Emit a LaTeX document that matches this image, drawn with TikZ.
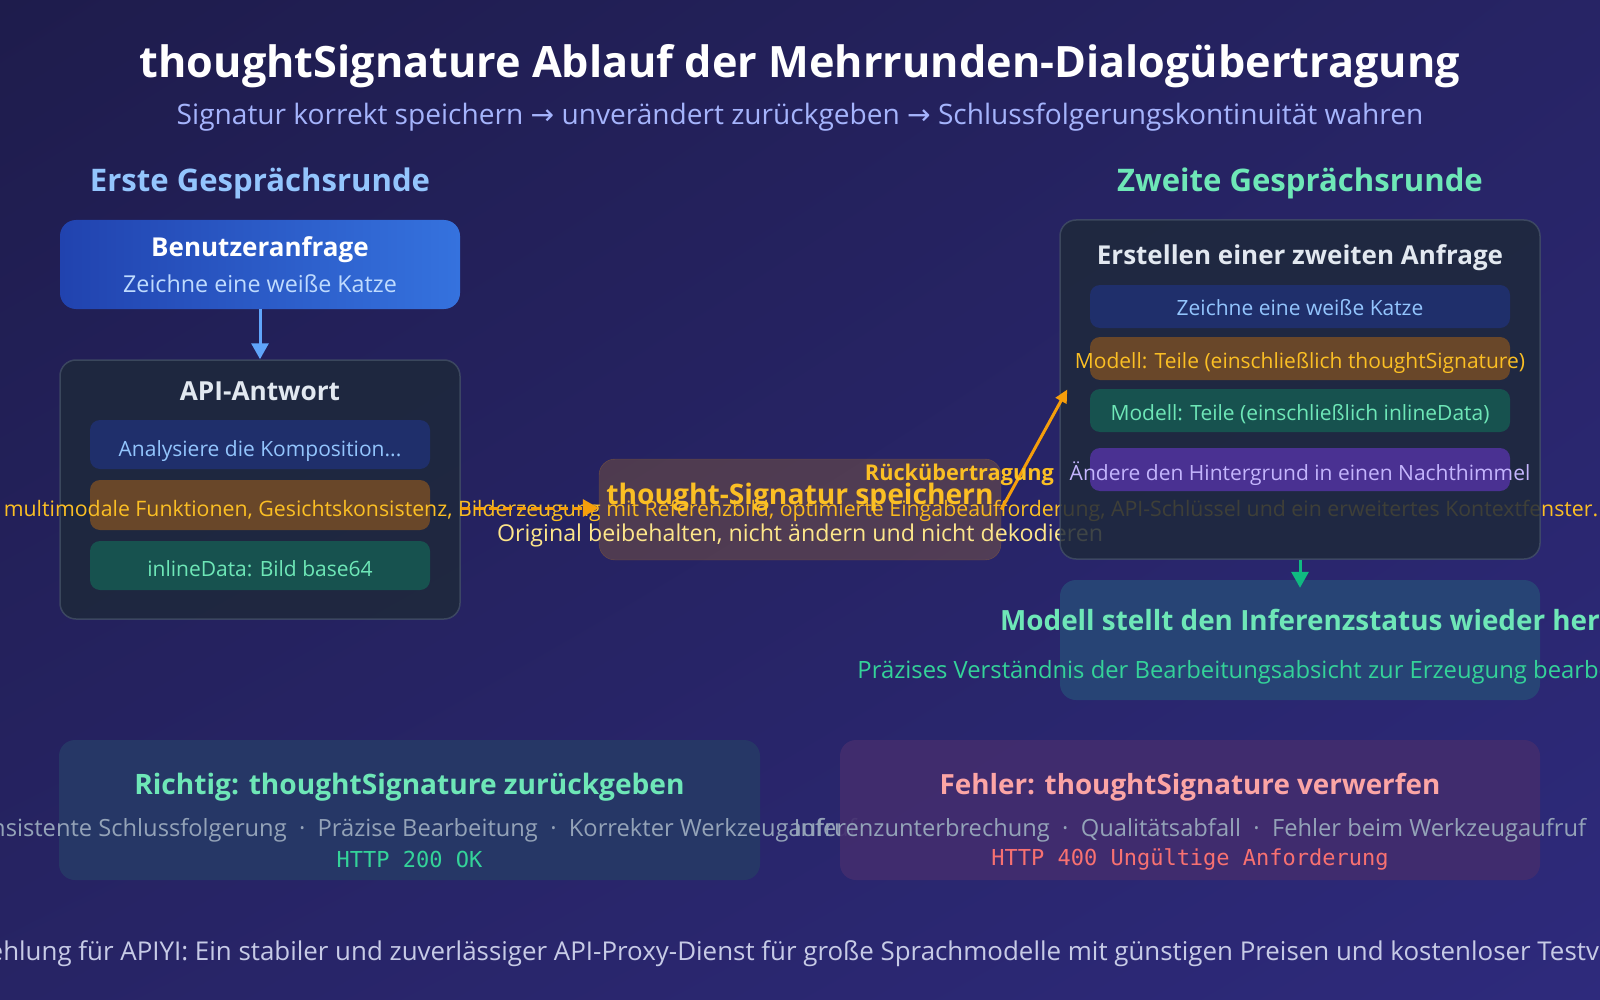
\documentclass[tikz,border=0pt]{standalone}
\usepackage{fontspec}
\setmainfont{Open Sans}
\setmonofont{DejaVu Sans Mono}
\newfontfamily\arrowfont{DejaVu Sans}
\usetikzlibrary{arrows.meta,shadings}

\definecolor{bgA}{HTML}{1E1C4C}
\definecolor{bgB}{HTML}{272465}
\definecolor{bgC}{HTML}{2E2A7C}
\definecolor{subtext}{HTML}{A5B4FC}
\definecolor{roundone}{HTML}{93C5FD}
\definecolor{roundtwo}{HTML}{6EE7B7}
\definecolor{queryA}{HTML}{2143AF}
\definecolor{queryB}{HTML}{3572DE}
\definecolor{querytext}{HTML}{BFDBFE}
\definecolor{panelfill}{HTML}{1E293B}
\definecolor{panelline}{HTML}{475569}
\definecolor{paneltitle}{HTML}{E2E8F0}
\definecolor{chipblue}{HTML}{1F2F6B}
\definecolor{chipbrown}{HTML}{694729}
\definecolor{chipteal}{HTML}{17524F}
\definecolor{chippurple}{HTML}{4A3192}
\definecolor{lightblue}{HTML}{93C5FD}
\definecolor{amber}{HTML}{FBBF24}
\definecolor{amberline}{HTML}{F59E0B}
\definecolor{paleamber}{HTML}{FDE68A}
\definecolor{mint}{HTML}{6EE7B7}
\definecolor{emerald}{HTML}{34D399}
\definecolor{violet}{HTML}{C4B5FD}
\definecolor{bluearrow}{HTML}{60A5FA}
\definecolor{greenarrow}{HTML}{10B981}
\definecolor{resultfill}{HTML}{274475}
\definecolor{goodfill}{HTML}{263766}
\definecolor{badfill}{HTML}{432D6E}
\definecolor{slate}{HTML}{94A3B8}
\definecolor{rose}{HTML}{FCA5A5}
\definecolor{errred}{HTML}{F87171}
\definecolor{footer}{HTML}{C7CBE6}

\newcommand\fsz[1]{\fontsize{#1}{#1}\selectfont}

\begin{document}
\begin{tikzpicture}[x=1pt, y=-1pt,
    panel/.style={draw=panelline, line width=1.5pt, fill=panelfill, fill opacity=0.85, draw opacity=0.7, rounded corners=16pt, inner sep=0pt},
    chip/.style={rounded corners=10pt, inner sep=0pt, minimum height=#1},
    card/.style={rounded corners=16pt, inner sep=0pt},
    txt/.style={inner sep=0pt},
    flow/.style={line width=3pt, -{Triangle[length=16pt,width=17pt]}}]
  \useasboundingbox (0,0) rectangle (1600,1000);
  \shade[upper left=bgA, upper right=bgB, lower left=bgB, lower right=bgC] (0,0) rectangle (1600,1000);
  \clip (0,0) rectangle (1600,1000);

  % heading
  \node[txt, text=white, font=\fsz{43.2}\bfseries] (title) at (800,66) {thoughtSignature Ablauf der Mehrrunden-Dialogübertragung};
  \node[txt, text=subtext, font=\fsz{28.1}] (subtitle) at (800,117) {Signatur korrekt speichern {\arrowfont →} unverändert zurückgeben {\arrowfont →} Schlussfolgerungskontinuität wahren};
  \node[txt, text=roundone, font=\fsz{31.1}\bfseries] (firsthead) at (260,183) {Erste Gesprächsrunde};
  \node[txt, text=roundtwo, font=\fsz{31.1}\bfseries] (secondhead) at (1300,183) {Zweite Gesprächsrunde};

  % first round
  \node[card, minimum width=400pt, minimum height=89pt, left color=queryA, right color=queryB] (query) at (260,264.5) {};
  \node[txt, text=white, font=\fsz{26}\bfseries] (querytitle) at (260,250) {Benutzeranfrage};
  \node[txt, text=querytext, font=\fsz{23.3}] (querytext) at (260,284) {Zeichne eine weiße Katze};

  \node[panel, minimum width=400pt, minimum height=259pt] (answer) at (260,489.5) {};
  \node[txt, text=paneltitle, font=\fsz{26.2}\bfseries] (answertitle) at (260,391) {API-Antwort};
  \node[chip=49pt, minimum width=340pt, fill=chipblue] (think) at (260,444.5) {};
  \node[txt, text=lightblue, font=\fsz{21}] (thinktext) at (260,451) {Analysiere die Komposition...};
  \node[chip=50pt, minimum width=340pt, fill=chipbrown] (sig) at (260,505) {};
  \node[chip=49pt, minimum width=340pt, fill=chipteal] (img) at (260,565.5) {};
  \node[txt, text=mint, font=\fsz{21}] (imgtext) at (260,569) {inlineData: Bild base64};
  \node[txt, text=amber, font=\fsz{21.3}] (sigtext) at (801,511) {multimodale Funktionen, Gesichtskonsistenz, Bilderzeugung mit Referenzbild, optimierte Eingabeaufforderung, API-Schlüssel und ein erweitertes Kontextfenster.};
  \coordinate (sigline) at (260,508);

  \draw[flow, color=bluearrow] (query) -- (answer);

  % stored signature
  \node[card, minimum width=402pt, minimum height=101pt, fill=amberline, fill opacity=0.2, draw=amberline, draw opacity=0.25] (store) at (800,509.5) {};
  \draw[flow, color=amberline, dash pattern=on 9pt off 5pt] (answer.east |- sigline) -- (store.west |- sigline);
  \node[txt, text=amber, font=\fsz{28.2}\bfseries] (storetitle) at (800,497) {thought-Signatur speichern};
  \node[txt, text=paleamber, font=\fsz{23.2}] (storetext) at (800,535) {Original beibehalten, nicht ändern und nicht dekodieren};

  % second round
  \node[panel, minimum width=480pt, minimum height=339pt] (request) at (1300,389.5) {};
  \node[txt, text=paneltitle, font=\fsz{26}\bfseries] (requesttitle) at (1300,258) {Erstellen einer zweiten Anfrage};
  \node[chip=43pt, minimum width=420pt, fill=chipblue] (askagain) at (1300,306.5) {};
  \node[txt, text=lightblue, font=\fsz{21}] (askagaintext) at (1300,308) {Zeichne eine weiße Katze};
  \node[chip=43pt, minimum width=420pt, fill=chipbrown] (sigagain) at (1300,358.5) {};
  \node[txt, text=amber, font=\fsz{21}] (sigagaintext) at (1300,363) {Modell: Teile (einschließlich thoughtSignature)};
  \node[chip=43pt, minimum width=420pt, fill=chipteal] (imgagain) at (1300,410.5) {};
  \node[txt, text=mint, font=\fsz{21}] (imgagaintext) at (1300,414) {Modell: Teile (einschließlich inlineData)};
  \node[chip=43pt, minimum width=420pt, fill=chippurple] (edit) at (1300,469.5) {};
  \node[txt, text=violet, font=\fsz{21}] (edittext) at (1300,474) {Ändere den Hintergrund in einen Nachthimmel};

  \draw[line width=3pt, color=amberline, -{Triangle[length=13pt,width=12pt]}] (store.east) -- ([xshift=8pt]request.west);
  \node[txt, text=amber, font=\fsz{21.7}\bfseries, anchor=east] (backlabel) at (1054,475) {Rückübertragung};

  \node[card, minimum width=480pt, minimum height=120pt, fill=resultfill] (result) at (1300,640) {};
  \draw[flow, color=greenarrow] (request) -- ([yshift=-8pt]result.north);
  \node[txt, text=mint, font=\fsz{27.85}\bfseries] (resulttitle) at (1300,620) {Modell stellt den Inferenzstatus wieder her};
  \node[txt, text=emerald, font=\fsz{23.8}] (resulttext) at (1300,672) {Präzises Verständnis der Bearbeitungsabsicht zur Erzeugung bearbeiteter Bilder};

  % outcome
  \node[card, minimum width=701pt, minimum height=140pt, fill=goodfill] (good) at (409.5,810) {};
  \node[txt, text=mint, font=\fsz{28.1}\bfseries] (goodtitle) at (409.5,787) {Richtig: thoughtSignature zurückgeben};
  \node[txt, text=slate, font=\fsz{23.7}] (goodtext) at (409.5,830) {Konsistente Schlussfolgerung \ · \ Präzise Bearbeitung \ · \ Korrekter Werkzeugaufruf};
  \node[txt, text=emerald, font=\fsz{22}\ttfamily] (goodcode) at (409.5,859) {HTTP 200 OK};

  \node[card, minimum width=700pt, minimum height=140pt, fill=badfill, fill opacity=0.9] (bad) at (1190,810) {};
  \node[txt, text=rose, font=\fsz{27.8}\bfseries] (badtitle) at (1190,787) {Fehler: thoughtSignature verwerfen};
  \node[txt, text=slate, font=\fsz{23.7}] (badtext) at (1190,830) {Inferenzunterbrechung \ · \ Qualitätsabfall \ · \ Fehler beim Werkzeugaufruf};
  \node[txt, text=errred, font=\fsz{22}\ttfamily] (badcode) at (1190,859) {HTTP 400 Ungültige Anforderung};

  \node[txt, text=footer, font=\fsz{25.9}] (footnote) at (800,954) {Empfehlung für APIYI: Ein stabiler und zuverlässiger API-Proxy-Dienst für große Sprachmodelle mit günstigen Preisen und kostenloser Testversion};
\end{tikzpicture}
\end{document}
